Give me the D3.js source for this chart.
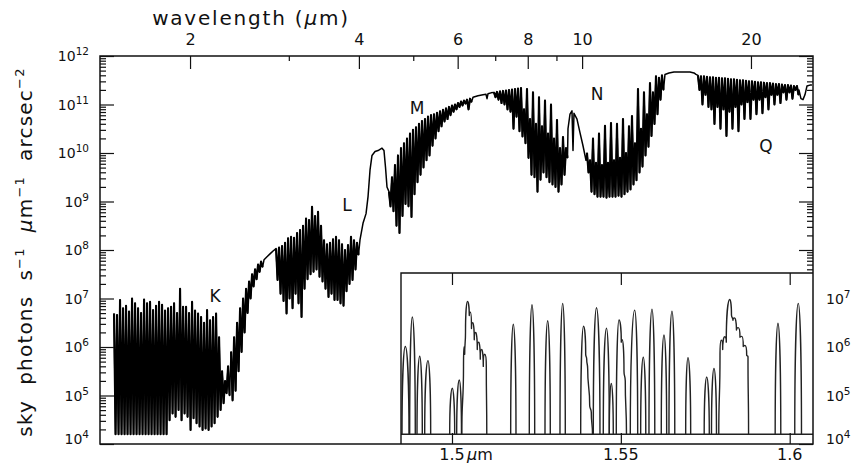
<!DOCTYPE html>
<html>
<head>
<meta charset="utf-8">
<script src="https://cdn.jsdelivr.net/npm/d3@7"></script>
<style>
  body { margin: 0; background: #fff; }
  svg { display: block; font-family: "DejaVu Sans", sans-serif; }
  text { fill: #111; }
</style>
</head>
<body>
<svg id="chart" width="858" height="476"></svg>
<script>
// axes: wavelength in micron, flux as log10(photons s-1 um-1 arcsec-2)
const lambdaDomain = [1.382, 25.8];
const fluxDomain = [1e4, 1e12];
const topTicksMajor = [2, 4, 6, 8, 10, 20];
const topTicksMinor = [3, 5, 7, 9];
const yTickExp = [4, 5, 6, 7, 8, 9, 10, 11, 12];
const rightLabelExp = [4, 5, 6, 7];

// dense bands: range in micron, spike tops / troughs (log10) on even log-lambda steps
const kRange = [1.464, 2.338];
const kHi = [6.69, 6.66, 6.97, 6.80, 6.85, 6.73, 7.00, 6.90, 6.80, 6.70, 6.98, 6.90, 6.93, 6.76, 6.85, 6.93, 6.87, 6.75, 6.80, 6.83,
  6.90, 6.70, 7.20, 6.83, 6.83, 6.70, 6.93, 6.75, 6.69, 6.62, 6.50, 6.76, 6.55, 6.62, 6.69, 6.20, 5.50, 5.30, 5.60];
const kLo = [4.2, 4.2, 4.2, 4.2, 4.2, 4.2, 4.2, 4.2, 4.2, 4.2, 4.2, 4.2, 4.2, 4.2, 4.2, 4.2, 4.2, 4.2,
  4.49, 4.63, 4.56, 4.70, 4.49, 4.63, 4.56, 4.29, 4.53, 4.43, 4.36, 4.29, 4.32, 4.29, 4.36, 4.43, 4.56, 4.70, 4.84, 5.05, 5.00];

const riseRange = [2.367, 2.677];
const riseHi = [5.9, 6.2, 6.5, 6.8, 7.0, 7.2, 7.35, 7.5, 7.6, 7.7, 7.76];
const riseLo = [4.9, 5.1, 5.5, 5.9, 6.3, 6.7, 7.0, 7.25, 7.4, 7.55, 7.65];
const riseTail = [[2.710, 7.80], [2.743, 7.86], [2.777, 7.92], [2.812, 7.98]];

const lRange = [2.847, 3.969];
const lHi = [8.03, 8.05, 8.08, 8.15, 8.24, 8.27, 8.25, 8.35, 8.41, 8.50, 8.65, 8.62, 8.89, 8.70, 8.79, 8.50, 8.20, 8.12, 8.15, 8.22,
  8.27, 8.20, 8.12, 8.00, 8.10, 8.27, 8.20, 8.15];
const lLo = [7.38, 7.10, 6.95, 6.69, 7.00, 6.80, 7.10, 6.90, 6.62, 7.20, 7.40, 7.50, 7.55, 7.60, 7.45, 7.35, 7.20, 7.03, 7.10, 6.97,
  6.97, 6.90, 6.85, 7.15, 7.30, 7.38, 7.60, 7.90];

const lmGap = [[4.018, 8.21], [4.068, 8.55], [4.119, 8.75], [4.153, 9.10], [4.187, 9.65], [4.221, 9.95], [4.274, 10.03],
  [4.327, 10.05], [4.398, 10.10], [4.434, 10.05], [4.462, 9.70], [4.489, 9.30]];

const mRange = [4.526, 6.312];
const mHi = [9.2, 9.5, 9.75, 9.95, 10.1, 10.2, 10.3, 10.4, 10.48, 10.53, 10.6, 10.66, 10.7, 10.75, 10.78, 10.8, 10.83, 10.86,
  10.89, 10.92, 10.95, 10.98, 11.0, 11.03, 11.06, 11.08, 11.1, 11.12];
const mLo = [8.9, 8.8, 8.5, 8.35, 8.7, 8.95, 8.9, 8.68, 9.15, 9.4, 9.55, 9.7, 9.85, 9.95, 10.15, 10.3, 10.45, 10.55,
  10.65, 10.7, 10.78, 10.85, 10.9, 10.95, 10.98, 11.02, 10.9, 11.05];

const mGap = [[6.390, 11.15], [6.522, 11.18], [6.658, 11.20], [6.740, 11.21], [6.768, 11.12], [6.795, 11.22], [6.880, 11.24]];

const m2Range = [6.965, 9.360];
const m2Hi = [11.25, 11.26, 11.27, 11.28, 11.29, 11.30, 11.31, 11.32, 11.33, 11.34, 10.9, 11.32, 10.7, 11.25, 10.6, 11.15,
  10.55, 11.08, 10.4, 11.0, 10.3, 10.68, 10.1, 10.33, 10.1];
const m2Lo = [11.15, 11.1, 11.03, 11.0, 10.9, 10.85, 10.5, 10.75, 10.45, 10.34, 10.2, 9.9, 9.55, 9.5, 9.2, 9.45,
  9.6, 9.5, 9.4, 9.35, 9.3, 9.2, 9.35, 9.55, 9.9];

const nBump = [[9.437, 10.50], [9.515, 10.80], [9.593, 10.87], [9.633, 10.05], [9.672, 10.82], [9.792, 10.70],
  [9.913, 10.42], [10.036, 10.15], [10.161, 9.85]];

const nRange = [10.203, 13.880];
const nHi = [10.0, 9.85, 10.3, 9.8, 10.4, 9.75, 10.56, 9.8, 10.62, 9.85, 10.6, 9.9, 10.7, 10.0, 10.55, 10.76, 10.2,
  11.32, 10.5, 11.25, 10.8, 11.44, 11.25, 11.58, 11.55, 11.6];
const nLo = [9.6, 9.2, 9.15, 9.1, 9.1, 9.1, 9.08, 9.1, 9.1, 9.1, 9.12, 9.1, 9.15, 9.2, 9.25, 9.35, 9.44,
  9.6, 9.72, 9.95, 10.13, 10.35, 10.6, 10.8, 11.1, 11.3];

const qShelf = [[14.052, 11.62], [14.284, 11.65], [14.581, 11.67], [15.068, 11.67], [15.570, 11.67], [15.828, 11.65], [15.958, 11.62]];

const qRange = [16.090, 24.155];
const qHi = [11.6, 11.58, 11.58, 11.57, 11.56, 11.56, 11.55, 11.55, 11.54, 11.54, 11.53, 11.52, 11.52, 11.51, 11.5, 11.5, 11.49,
  11.48, 11.48, 11.47, 11.46, 11.46, 11.45, 11.44, 11.44, 11.43, 11.42, 11.42, 11.41, 11.4, 11.4, 11.39, 11.38, 11.38];
const qLo = [11.3, 11.0, 11.2, 10.95, 10.9, 10.6, 10.95, 10.5, 10.9, 10.35, 10.85, 10.5, 10.95, 10.45, 11.0, 10.7, 11.05,
  10.7, 11.1, 10.8, 11.1, 10.82, 11.15, 10.9, 11.2, 11.0, 11.2, 11.03, 11.25, 11.1, 11.25, 11.12, 11.3, 11.2];

const qTail = [[24.355, 11.30], [24.555, 11.12], [24.758, 11.10], [24.962, 11.20], [25.168, 11.38], [25.480, 11.40], [25.689, 11.40]];

// band names at (micron, log10 flux)
const bandNames = ['K', 'L', 'M', 'N', 'Q'];
const bandAt = [[2.216, 7.05], [3.811, 8.93], [5.077, 10.93], [10.633, 11.22], [21.27, 10.14]];

// inset: 1.48-1.61 micron, each OH line from floor to floor
const insetDomain = [1.4849, 1.6069];
const insetTicks = [1.5, 1.55, 1.6];
const insetFloor = 4.2;
const insetLines = [
  [[1.48520, 4.2], [1.48617, 6.01], [1.48727, 4.2]],
  [[1.48747, 4.2], [1.48825, 6.62], [1.48913, 4.2]],
  [[1.48964, 4.2], [1.49044, 5.81], [1.49121, 4.2]],
  [[1.49192, 4.2], [1.49289, 5.72], [1.49369, 4.2]],
  [[1.49932, 4.2], [1.50009, 5.15], [1.50080, 4.2]],
  [[1.50139, 4.2], [1.50216, 5.32], [1.50281, 4.2]],
  [[1.50290, 4.2], [1.50341, 5.6], [1.50355, 6.0], [1.50376, 5.85], [1.50400, 6.3], [1.50459, 6.94], [1.50512, 6.65],
   [1.50542, 6.72], [1.50577, 6.38], [1.50613, 6.5], [1.50660, 6.15], [1.50702, 6.3], [1.50749, 5.95], [1.50791, 6.1],
   [1.50838, 5.75], [1.50879, 5.95], [1.50927, 5.6], [1.50968, 5.85], [1.51016, 5.6], [1.51030, 4.2]],
  [[1.51738, 4.2], [1.51815, 6.47], [1.51895, 4.2]],
  [[1.52289, 4.2], [1.52369, 6.87], [1.52449, 4.2]],
  [[1.52754, 4.2], [1.52834, 6.54], [1.52911, 4.2]],
  [[1.53198, 4.2], [1.53278, 6.90], [1.53355, 4.2]],
  [[1.53811, 4.2], [1.53894, 6.43], [1.53959, 5.85], [1.53989, 5.75], [1.54018, 5.55], [1.54077, 4.8], [1.54125, 4.65], [1.54160, 4.2]],
  [[1.54184, 4.2], [1.54279, 6.81], [1.54382, 4.2]],
  [[1.54480, 4.2], [1.54575, 6.39], [1.54658, 4.2]],
  [[1.54658, 4.2], [1.54717, 5.25], [1.54776, 4.2]],
  [[1.54865, 4.2], [1.54945, 6.56], [1.55013, 6.1], [1.55040, 6.15], [1.55093, 5.5], [1.55131, 5.3], [1.55167, 4.2]],
  [[1.55280, 4.2], [1.55410, 6.76], [1.55499, 4.2]],
  [[1.55587, 4.2], [1.55664, 5.79], [1.55738, 4.2]],
  [[1.55833, 4.2], [1.55922, 6.78], [1.56005, 4.2]],
  [[1.56197, 4.2], [1.56277, 6.25], [1.56357, 4.2]],
  [[1.56425, 4.2], [1.56514, 6.74], [1.56597, 4.2]],
  [[1.56920, 4.2], [1.56988, 5.78], [1.57068, 4.2]],
  [[1.57468, 4.2], [1.57542, 5.38], [1.57619, 4.2]],
  [[1.57684, 4.2], [1.57758, 5.56], [1.57832, 4.2]],
  [[1.57900, 4.2], [1.57936, 5.8], [1.57974, 6.14], [1.58015, 5.95], [1.58075, 6.21], [1.58122, 6.1], [1.58223, 6.98],
   [1.58276, 6.66], [1.58320, 6.55], [1.58365, 6.6], [1.58424, 6.35], [1.58474, 6.4], [1.58528, 6.2], [1.58581, 6.22],
   [1.58625, 6.01], [1.58676, 6.03], [1.58726, 5.83], [1.58765, 5.8], [1.58782, 4.2]],
  [[1.59570, 4.2], [1.59653, 6.49], [1.59736, 4.2]],
  [[1.60150, 4.2], [1.60254, 6.90], [1.60349, 4.2]]
];

const frame = { left: 100, right: 813, top: 56, bottom: 444 };
const insetBox = { left: 401, top: 273 };

const x = d3.scaleLog().domain(lambdaDomain).range([frame.left, frame.right]);
const y = d3.scaleLog().domain(fluxDomain).range([frame.bottom, frame.top]);
const xi = d3.scaleLinear().domain(insetDomain).range([insetBox.left, frame.right]);

const svg = d3.select('#chart');

// zigzag through tops and troughs of a dense band
function dense(range, hi, lo) {
  const l0 = Math.log10(range[0]);
  const step = (Math.log10(range[1]) - l0) / (hi.length - 1);
  const pts = [];
  hi.forEach((h, i) => {
    pts.push([10 ** (l0 + i * step), h]);
    pts.push([10 ** (l0 + (i + 0.5) * step), lo[i]]);
  });
  return pts;
}

const kPts = dense(kRange, kHi, kLo);
const risePts = dense(riseRange, riseHi, riseLo);
const lPts = dense(lRange, lHi, lLo);
const mPts = dense(mRange, mHi, mLo);
const m2Pts = dense(m2Range, m2Hi, m2Lo);
const nPts = dense(nRange, nHi, nLo);
const qPts = dense(qRange, qHi, qLo);

const spectrum = [].concat(kPts, risePts, riseTail, lPts, lmGap, mPts, mGap, m2Pts, nBump, nPts, qShelf, qPts, qTail);

const line = d3.line().x(d => x(d[0])).y(d => y(10 ** d[1]));

svg.append('path')
  .datum(spectrum)
  .attr('d', line)
  .attr('fill', 'none')
  .attr('stroke', '#000')
  .attr('stroke-width', 1.5)
  .attr('stroke-linejoin', 'round');

// thicker pass over the crowded line forests
svg.selectAll('.forest')
  .data([kPts, risePts, lPts, mPts, m2Pts, nPts, qPts])
  .enter()
  .append('path')
  .attr('class', 'forest')
  .attr('d', line)
  .attr('fill', 'none')
  .attr('stroke', '#000')
  .attr('stroke-width', 2.1)
  .attr('stroke-linejoin', 'round');

// band labels
svg.selectAll('.band')
  .data(bandNames)
  .enter()
  .append('text')
  .attr('class', 'band')
  .attr('x', (d, i) => x(bandAt[i][0]))
  .attr('y', (d, i) => y(10 ** bandAt[i][1]) + 6)
  .attr('text-anchor', 'middle')
  .attr('font-size', 17)
  .text(d => d);

// axes, ticks pointing inward
function ticksOnly(g) {
  g.select('.domain').remove();
  g.attr('font-size', null).attr('font-family', null);
  g.selectAll('line').attr('stroke', '#111').attr('stroke-width', 1.2);
}

const majorFlux = yTickExp.map(e => 10 ** e);
const minorFlux = y.ticks().filter(v => !majorFlux.some(m => Math.abs(m - v) / m < 1e-6));

svg.append('g').attr('transform', `translate(${frame.left},0)`)
  .call(d3.axisRight(y).tickValues(majorFlux).tickSize(14).tickFormat(''))
  .call(ticksOnly);
svg.append('g').attr('transform', `translate(${frame.left},0)`)
  .call(d3.axisRight(y).tickValues(minorFlux).tickSize(6).tickFormat(''))
  .call(ticksOnly);
svg.append('g').attr('transform', `translate(${frame.right},0)`)
  .call(d3.axisLeft(y).tickValues(majorFlux).tickSize(14).tickFormat(''))
  .call(ticksOnly);
svg.append('g').attr('transform', `translate(${frame.right},0)`)
  .call(d3.axisLeft(y).tickValues(minorFlux).tickSize(6).tickFormat(''))
  .call(ticksOnly);

svg.append('g').attr('transform', `translate(0,${frame.top})`)
  .call(d3.axisTop(x).tickValues(topTicksMajor).tickSizeInner(-13).tickSizeOuter(0).tickPadding(11).tickFormat(d3.format('d')))
  .call(ticksOnly)
  .call(g => g.selectAll('text').attr('font-size', 16).attr('fill', '#111'));
svg.append('g').attr('transform', `translate(0,${frame.top})`)
  .call(d3.axisTop(x).tickValues(topTicksMinor).tickSizeInner(-5).tickSizeOuter(0).tickFormat(''))
  .call(ticksOnly);

// power-of-ten labels
function powerLabel(sel, e) {
  sel.append('tspan').text('10');
  sel.append('tspan').attr('dy', -6).attr('font-size', 10.5).text(e);
}

yTickExp.forEach(e => {
  svg.append('text')
    .attr('x', frame.left - 11)
    .attr('y', y(10 ** e) + 5 - (e === 4 ? 5 : 0))
    .attr('text-anchor', 'end')
    .attr('font-size', 14)
    .call(powerLabel, e);
});

rightLabelExp.forEach(e => {
  svg.append('text')
    .attr('x', frame.right + 13)
    .attr('y', y(10 ** e) + 5 - (e === 4 ? 5 : 0))
    .attr('font-size', 14)
    .call(powerLabel, e);
});

// titles
const xt = svg.append('text')
  .attr('x', 251).attr('y', 25)
  .attr('text-anchor', 'middle')
  .attr('font-size', 20)
  .attr('letter-spacing', 1.8);
xt.append('tspan').text('wavelength (');
xt.append('tspan').attr('font-style', 'italic').text('μ');
xt.append('tspan').text('m)');

const yt = svg.append('text')
  .attr('transform', `translate(32,${(frame.top + frame.bottom) / 2 + 2}) rotate(-90)`)
  .attr('text-anchor', 'middle')
  .attr('font-size', 20)
  .attr('letter-spacing', 1.2)
  .style('white-space', 'pre');
yt.append('tspan').text('sky  photons  s');
yt.append('tspan').attr('dy', -8).attr('font-size', 13).text('−1');
yt.append('tspan').attr('dy', 8).text('  ');
yt.append('tspan').attr('font-style', 'italic').text('μ');
yt.append('tspan').text('m');
yt.append('tspan').attr('dy', -8).attr('font-size', 13).text('−1');
yt.append('tspan').attr('dy', 8).text('  arcsec');
yt.append('tspan').attr('dy', -8).attr('font-size', 13).text('−2');

// inset
const inset = svg.append('g');
inset.append('rect')
  .attr('x', insetBox.left).attr('y', insetBox.top)
  .attr('width', frame.right - insetBox.left).attr('height', frame.bottom - insetBox.top)
  .attr('fill', '#fff');

// line profiles: round at maxima, steep at the floor and between blended lines
function archCurve(context) {
  let pts;
  const k = 0.55;
  return {
    areaStart() {}, areaEnd() {},
    lineStart() { pts = []; },
    point(px, py) { pts.push([px, py]); },
    lineEnd() {
      const isPeak = i => i > 0 && i < pts.length - 1 && pts[i][1] < pts[i - 1][1] && pts[i][1] < pts[i + 1][1];
      context.moveTo(pts[0][0], pts[0][1]);
      for (let i = 0; i < pts.length - 1; i++) {
        const a = pts[i], b = pts[i + 1];
        const c1 = isPeak(i) ? [a[0] + k * (b[0] - a[0]), a[1]] : [a[0], a[1] + k * (b[1] - a[1])];
        const c2 = isPeak(i + 1) ? [b[0] - k * (b[0] - a[0]), b[1]] : [b[0], b[1] - k * (b[1] - a[1])];
        context.bezierCurveTo(c1[0], c1[1], c2[0], c2[1], b[0], b[1]);
      }
    }
  };
}

const insetLine = d3.line().curve(archCurve).x(d => xi(d[0])).y(d => y(10 ** d[1]));
inset.append('line')
  .attr('x1', insetBox.left).attr('x2', frame.right)
  .attr('y1', y(10 ** insetFloor)).attr('y2', y(10 ** insetFloor))
  .attr('stroke', '#222').attr('stroke-width', 1.4);
inset.selectAll('.oh')
  .data(insetLines)
  .enter()
  .append('path')
  .attr('class', 'oh')
  .attr('d', insetLine)
  .attr('fill', 'none')
  .attr('stroke', '#222')
  .attr('stroke-width', 1.4)
  .attr('stroke-linejoin', 'round');

inset.append('g').attr('transform', `translate(0,${insetBox.top})`)
  .call(d3.axisBottom(xi).tickValues(insetTicks).tickSize(12).tickFormat(''))
  .call(ticksOnly);
inset.append('g').attr('transform', `translate(0,${frame.bottom})`)
  .call(d3.axisTop(xi).tickValues(insetTicks).tickSize(11).tickFormat(''))
  .call(ticksOnly);

inset.append('path')
  .attr('d', `M${insetBox.left},${frame.bottom}V${insetBox.top}H${frame.right}`)
  .attr('fill', 'none').attr('stroke', '#111').attr('stroke-width', 1.4);

svg.selectAll('.itick')
  .data(insetTicks)
  .enter()
  .append('text')
  .attr('class', 'itick')
  .attr('x', d => xi(d))
  .attr('y', frame.bottom + 16)
  .attr('text-anchor', 'middle')
  .attr('font-size', 16)
  .text(d => d);
const unit = svg.append('text')
  .attr('x', xi(insetTicks[0]) + 15).attr('y', frame.bottom + 16)
  .attr('font-size', 16);
unit.append('tspan').attr('font-style', 'italic').text('μ');
unit.append('tspan').text('m');

// main frame
svg.append('rect')
  .attr('x', frame.left).attr('y', frame.top)
  .attr('width', frame.right - frame.left).attr('height', frame.bottom - frame.top)
  .attr('fill', 'none').attr('stroke', '#111').attr('stroke-width', 1.5);
</script>
</body>
</html>
